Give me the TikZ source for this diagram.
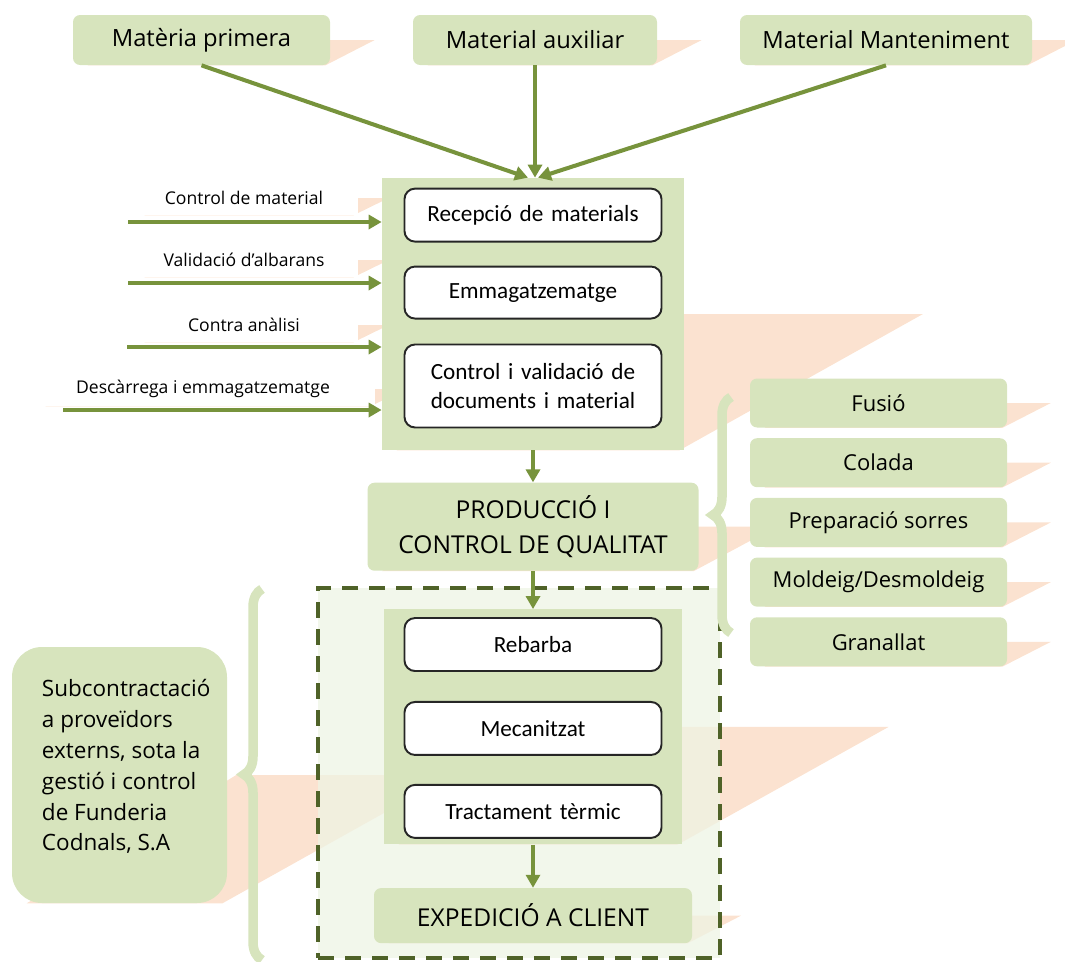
\documentclass[tikz,border=0pt]{standalone}
\usepackage{fontspec}
\setmainfont{Carlito}[WordSpace=0.7]
\newfontfamily\comicfont{Open Sans}
\usetikzlibrary{positioning,arrows.meta,calc,backgrounds,decorations.pathreplacing}
\definecolor{boxgreen}{RGB}{215,228,189}
\definecolor{flowgreen}{RGB}{119,147,60}
\definecolor{darkgreen}{RGB}{79,98,40}
\definecolor{paleground}{RGB}{238,244,228}
\definecolor{peach}{RGB}{251,226,208}
\tikzstyle{topbox}=[rectangle, rounded corners=4pt, fill=boxgreen, minimum height=10mm, inner sep=2pt,
align=center, font=\comicfont\fontsize{13.5}{16}\selectfont]
\tikzstyle{sidebox}=[topbox, minimum width=51.4mm, minimum height=9.8mm, font=\comicfont\fontsize{12.5}{15}\selectfont]
\tikzstyle{stagebox}=[rectangle, rounded corners=4pt, fill=boxgreen, inner sep=2pt, align=center,
font=\comicfont\fontsize{14}{20}\selectfont]
\tikzstyle{holder}=[rectangle, fill=boxgreen, inner sep=0pt]
\tikzstyle{taskbox}=[rectangle, rounded corners=6pt, draw=black!85, line width=1.1pt, fill=white,
text width=50mm, minimum height=10.6mm, inner sep=2pt, align=center, font=\fontsize{13.2}{16}\selectfont]
\tikzstyle{inlabel}=[rectangle, fill=white, minimum height=6.8mm, inner sep=0pt, font=\comicfont\fontsize{10}{12}\selectfont]
\tikzstyle{flow}=[-{Triangle[length=2.6mm,width=2.8mm]}, line width=2.3pt, draw=flowgreen]
\tikzstyle{curly}=[decorate, decoration={brace,amplitude=3.6mm}, line width=1.9mm, draw=boxgreen]
\newcommand\pshade[1]{\fill[peach] ([xshift=3mm]#1.south west) -- ([xshift=-1mm]#1.south east) -- ($(#1.east)!1.75!90:(#1.south east)$)
  -- ($(#1.west)!1.75!90:(#1.south west)$) -- cycle;}
\begin{document}
\begin{tikzpicture}
    \useasboundingbox (0,0) rectangle (21.3,-19.22);

% inputs
    \node (mp) [topbox, minimum width=51.4mm] at (4.03,-0.8) {Matèria primera};
    \node (aux) [topbox, minimum width=48.8mm] at (10.7,-0.8) {Material auxiliar};
    \node (mant) [topbox, minimum width=58.4mm] at (17.72,-0.8) {Material Manteniment};

% reception block
    \node (entrada) [holder, minimum width=60.4mm, minimum height=54.4mm] at (10.66,-6.28) {};
    \node (recep) [taskbox, below=2mm of entrada.north] {Recepció de materials};
    \node (emmag) [taskbox, below=4.6mm of recep, minimum height=10.4mm] {Emmagatzematge};
    \node (ctrl) [taskbox, below=4.8mm of emmag, minimum height=16.6mm] {Control i validació de\\documents i material};

    \node (l1) [inlabel, minimum width=45.6mm] at (4.88,-3.96) {Control de material};
    \node (l2) [inlabel, minimum width=45.6mm] at (4.88,-5.2) {Validació d’albarans};
    \node (l3) [inlabel, minimum width=45.6mm] at (4.88,-6.5) {Contra anàlisi};
    \node (l4) [inlabel, minimum width=68.8mm] at (4.06,-7.78) {Descàrrega i emmagatzematge};
    \coordinate (s1) at (2.56,-4.44);
    \coordinate (s2) at (2.56,-5.66);
    \coordinate (s3) at (2.54,-6.94);
    \coordinate (s4) at (1.26,-8.2);

% production
    \node (prod) [stagebox, minimum width=66.2mm, minimum height=17.6mm, below=6.4mm of entrada] {PRODUCCIÓ I\\CONTROL DE QUALITAT};

    \node (fusio) [sidebox] at (17.57,-8.06) {Fusió};
    \node (colada) [sidebox, below=2mm of fusio] {Colada};
    \node (sorres) [sidebox, below=2mm of colada] {Preparació sorres};
    \node (moldeig) [sidebox, below=2mm of sorres] {Moldeig/Desmoldeig};
    \node (granallat) [sidebox, below=2mm of moldeig] {Granallat};

% external suppliers
    \node (extern) [rectangle, draw=darkgreen, dash pattern=on 3.2mm off 2.2mm, line width=2.8pt, fill=paleground,
        fill opacity=0.75, minimum width=80.4mm, minimum height=74mm] at (10.38,-15.46) {};
    \node (acabat) [holder, minimum width=59.6mm, minimum height=47mm, below=7.6mm of prod] {};
    \node (rebarba) [taskbox, below=1.6mm of acabat.north] {Rebarba};
    \node (mecan) [taskbox, below=5.8mm of rebarba] {Mecanitzat};
    \node (tract) [taskbox, below=5.6mm of mecan] {Tractament tèrmic};
    \node (exped) [stagebox, minimum width=63.6mm, minimum height=11mm, below=8.6mm of acabat] {EXPEDICIÓ A CLIENT};

    \node (subc) [rectangle, rounded corners=6mm, fill=boxgreen, minimum width=43mm, minimum height=51.2mm,
        inner sep=0pt, font=\comicfont\fontsize{12.8}{17.6}\selectfont] at (2.39,-15.5)
        {\hspace*{3mm}\parbox{34mm}{\raggedright Subcontractació\\a proveïdors\\externs, sota la\\gestió i control\\de Funderia\\Codnals, S.A\\[-2.2mm]\mbox{}}};

% braces
    \draw[curly] (14.62,-12.66) -- (14.62,-7.94);
    \draw[curly] (5.24,-19.2) -- (5.24,-11.78);

% arrows
    \draw[flow] (mp.south) -- ([xshift=-1mm]entrada.north);
    \draw[flow] (aux.south) -- (aux.south |- entrada.north);
    \draw[flow] (mant.south) -- ([xshift=1mm]entrada.north);
    \draw[flow] (s1) -- (s1 -| entrada.west);
    \draw[flow] (s2) -- (s2 -| entrada.west);
    \draw[flow] (s3) -- (s3 -| entrada.west);
    \draw[flow] (s4) -- (s4 -| entrada.west);
    \draw[flow] (entrada) -- (prod);
    \draw[flow] (prod) -- (acabat);
    \draw[flow] (acabat) -- (exped);

% shadows
    \begin{pgfonlayer}{background}
    \begin{scope}
    \clip (0,0) rectangle (21.3,-19.22);
    \foreach \n in {mp,aux,mant,l1,l2,l3,l4,entrada,prod,acabat,exped,subc,fusio,colada,sorres,moldeig,granallat}
        {\pshade{\n}}
    \end{scope}
    \end{pgfonlayer}

\end{tikzpicture}
\end{document}
